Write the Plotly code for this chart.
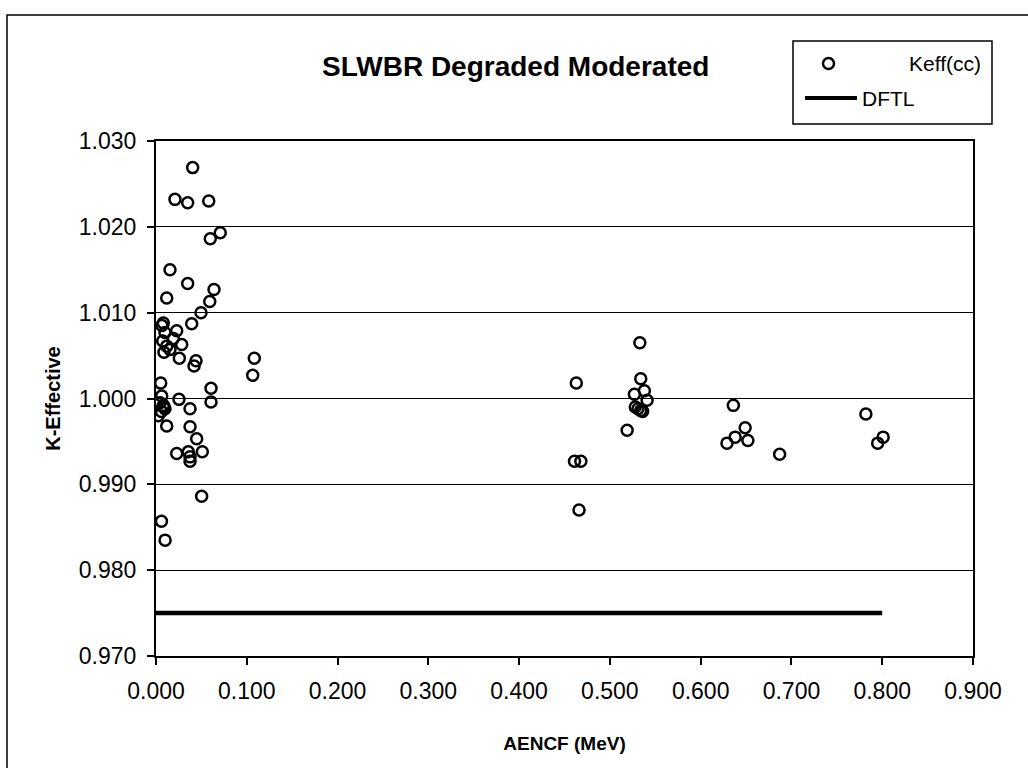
import plotly.graph_objects as go

# AENCF (MeV) and k-effective for each critical-configuration case
aencf_low = [0.0404, 0.0209, 0.0349, 0.0581, 0.0708, 0.0598, 0.0154, 0.0349,
             0.0639, 0.0118, 0.0592, 0.0496, 0.0393, 0.0081, 0.0099, 0.0228,
             0.0191, 0.0074, 0.0283, 0.0118, 0.0154, 0.0088, 0.0257, 0.0441,
             0.0419, 0.1083, 0.1065, 0.0052, 0.0606, 0.0063, 0.0253, 0.0606,
             0.0081, 0.0375, 0.0099, 0.0025, 0.0118, 0.0375, 0.0448, 0.0228,
             0.0356, 0.0375, 0.0510, 0.0375, 0.0503, 0.0060, 0.0100, 0.0060,
             0.0090, 0.0045, 0.0065]
keff_low = [1.0269, 1.0232, 1.0228, 1.0230, 1.0193, 1.0186, 1.0150, 1.0134,
            1.0127, 1.0117, 1.0113, 1.0100, 1.0087, 1.0088, 1.0077, 1.0079,
            1.0070, 1.0067, 1.0063, 1.0061, 1.0057, 1.0054, 1.0047, 1.0044,
            1.0038, 1.0047, 1.0027, 1.0018, 1.0012, 1.0003, 0.9999, 0.9996,
            0.9992, 0.9988, 0.9988, 0.9980, 0.9968, 0.9967, 0.9953, 0.9936,
            0.9938, 0.9932, 0.9938, 0.9927, 0.9886, 0.9857, 0.9835, 0.9985,
            0.9990, 0.9995, 1.0085]

aencf_high = [0.463, 0.461, 0.468, 0.466, 0.519, 0.527, 0.533, 0.534, 0.538,
              0.541, 0.528, 0.531, 0.534, 0.536, 0.636, 0.649, 0.638, 0.629,
              0.652, 0.687, 0.782, 0.801, 0.795]
keff_high = [1.0018, 0.9927, 0.9927, 0.9870, 0.9963, 1.0005, 1.0065, 1.0023,
             1.0009, 0.9998, 0.9990, 0.9988, 0.9986, 0.9985, 0.9992, 0.9966,
             0.9955, 0.9948, 0.9951, 0.9935, 0.9982, 0.9955, 0.9948]

aencf = aencf_low + aencf_high
keff = keff_low + keff_high

# Design-basis limit line
dftl_x = [0.0, 0.8]
dftl_y = [0.975, 0.975]

x_ticks = [0.0, 0.1, 0.2, 0.3, 0.4, 0.5, 0.6, 0.7, 0.8, 0.9]
y_ticks = [0.970, 0.980, 0.990, 1.000, 1.010, 1.020, 1.030]

W, H = 1028, 768
L, R, T, B = 156, 55, 141, 112
PW, PH = W - L - R, H - T - B


def px(x):
    return (x - L) / PW


def py(y):
    return (H - B - y) / PH


FONT = "Liberation Sans, Arial, sans-serif"

fig = go.Figure()
fig.add_trace(go.Scatter(
    x=aencf, y=keff, mode="markers", name="Keff(cc)",
    marker=dict(symbol="circle-open", size=11, color="black",
                line=dict(width=2.5, color="black")),
    showlegend=False,
))
fig.add_trace(go.Scatter(
    x=dftl_x, y=dftl_y, mode="lines", name="DFTL",
    line=dict(color="black", width=4.5), showlegend=False,
))

shapes = [
    # outer chart frame (right and bottom edges run past the page)
    dict(type="rect", xref="paper", yref="paper",
         x0=px(7), x1=px(1045), y0=py(785), y1=py(15),
         line=dict(color="black", width=1.5), fillcolor="rgba(0,0,0,0)",
         layer="below"),
    # legend box
    dict(type="rect", xref="paper", yref="paper",
         x0=px(793), x1=px(992), y0=py(124), y1=py(41),
         line=dict(color="black", width=1.5), fillcolor="white"),
    # legend marker
    dict(type="circle", xref="paper", yref="paper",
         x0=px(823), x1=px(834), y0=py(69), y1=py(58),
         line=dict(color="black", width=2.5)),
    # legend line sample
    dict(type="line", xref="paper", yref="paper",
         x0=px(805), x1=px(857), y0=py(98), y1=py(98),
         line=dict(color="black", width=4)),
]

annotations = [
    dict(text="<b>SLWBR Degraded Moderated</b>", xref="paper", yref="paper",
         x=px(515), y=py(66), showarrow=False,
         font=dict(family=FONT, size=28, color="black"),
         xanchor="center", yanchor="middle"),
    dict(text="Keff(cc)", xref="paper", yref="paper",
         x=px(983), y=py(63), showarrow=False,
         font=dict(family=FONT, size=21, color="black"),
         xanchor="right", yanchor="middle"),
    dict(text="DFTL", xref="paper", yref="paper",
         x=px(860), y=py(98), showarrow=False,
         font=dict(family=FONT, size=21, color="black"),
         xanchor="left", yanchor="middle"),
]

fig.update_layout(
    width=W, height=H,
    margin=dict(l=L, r=R, t=T, b=B),
    paper_bgcolor="white", plot_bgcolor="white",
    font=dict(family=FONT, color="black"),
    shapes=shapes, annotations=annotations,
    showlegend=False,
)

fig.update_xaxes(
    range=[0, 0.9], tickvals=x_ticks,
    ticktext=[f"{v:.3f}" for v in x_ticks],
    showgrid=False, zeroline=False,
    showline=True, mirror=True, linecolor="black", linewidth=2,
    ticks="outside", ticklen=7, tickwidth=1.5, tickcolor="black",
    ticklabelstandoff=6,
    tickfont=dict(family=FONT, size=23, color="black"),
    title=dict(text="<b>AENCF (MeV)</b>", standoff=34,
               font=dict(family=FONT, size=19, color="black")),
)
fig.update_yaxes(
    range=[0.970, 1.030], tickvals=y_ticks,
    ticktext=[f"{v:.3f}" for v in y_ticks],
    showgrid=True, gridcolor="black", gridwidth=1.2, zeroline=False,
    showline=True, mirror=True, linecolor="black", linewidth=2,
    ticks="outside", ticklen=7, tickwidth=1.5, tickcolor="black",
    ticklabelstandoff=6,
    tickfont=dict(family=FONT, size=23, color="black"),
    title=dict(text="<b>K-Effective</b>", standoff=13,
               font=dict(family=FONT, size=20, color="black")),
)

fig.write_html("out.html")
